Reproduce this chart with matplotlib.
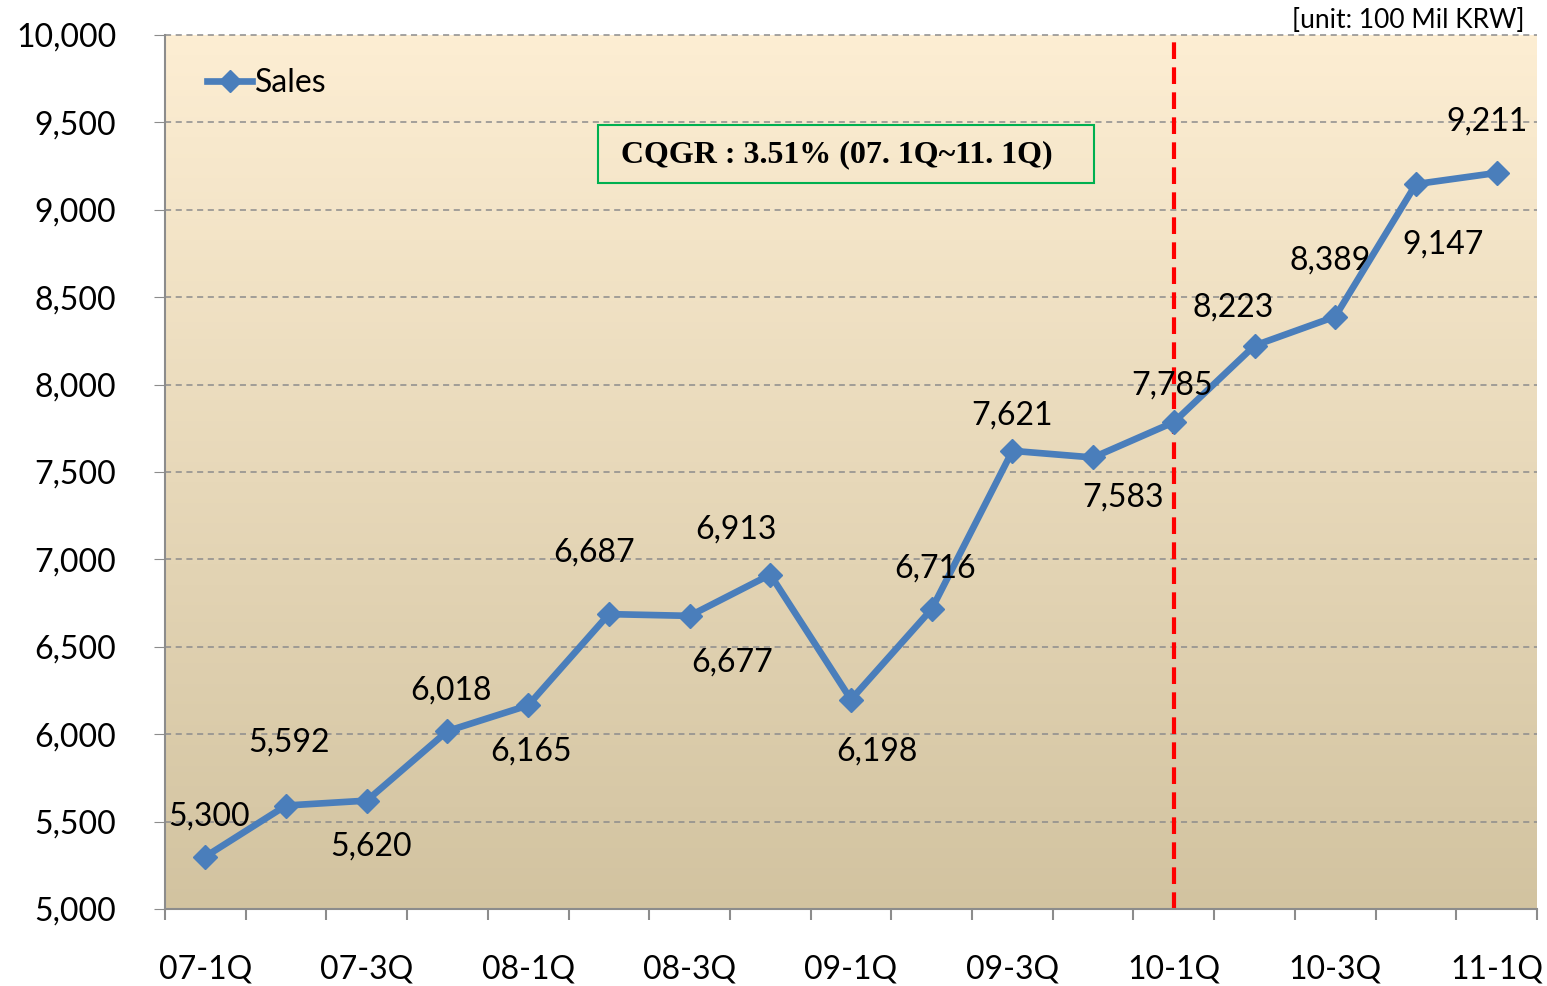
import matplotlib
matplotlib.use("Agg")
import matplotlib.pyplot as plt
import numpy as np
from matplotlib.colors import LinearSegmentedColormap
from matplotlib.patches import Rectangle

# quarterly sales, unit: 100 Mil KRW
quarters = ["07-1Q", "07-2Q", "07-3Q", "07-4Q", "08-1Q", "08-2Q", "08-3Q", "08-4Q",
            "09-1Q", "09-2Q", "09-3Q", "09-4Q", "10-1Q", "10-2Q", "10-3Q", "10-4Q", "11-1Q"]
sales = [5300, 5592, 5620, 6018, 6165, 6687, 6677, 6913,
         6198, 6716, 7621, 7583, 7785, 8223, 8389, 9147, 9211]
y_ticks = [5000, 5500, 6000, 6500, 7000, 7500, 8000, 8500, 9000, 9500, 10000]
split_quarter = "10-1Q"
note_text = "CQGR : 3.51% (07. 1Q~11. 1Q)"
unit_text = "[unit: 100 Mil KRW]"

# label offsets in pixels (dx, dy), picked to match where the labels sit
label_offsets = [(4, 40), (3, 63), (4, -46), (4, 41), (3, -46), (-15, 62), (43, -47), (-34, 45),
                 (26, -52), (3, 41), (0, 35), (30, -40), (-2, 37), (-21, 38), (-5, 56), (27, -60), (-10, 51)]

plt.rcParams['font.family'] = ['Lato', 'DejaVu Sans']

fig = plt.figure(figsize=(15.47, 9.86), dpi=100)
fig.patch.set_facecolor("white")
ax = fig.add_axes([165 / 1547, 1 - 909 / 986, (1537 - 165) / 1547, (909 - 35) / 986])

x = np.arange(len(quarters))
ax.set_xlim(-0.5, len(quarters) - 0.5)
ax.set_ylim(5000, 10000)

# background gradient, cream at the top to tan at the bottom
cmap = LinearSegmentedColormap.from_list("bg", ["#d2c3a0", "#fdeed3"])
grad = np.linspace(0, 1, 256).reshape(-1, 1)
ax.imshow(grad, cmap=cmap, aspect="auto", origin="lower",
          extent=[-0.5, len(quarters) - 0.5, 5000, 10000], zorder=0)

for yv in y_ticks:
    ax.axhline(yv, color="#8c8c8c", lw=1.1, ls=(0, (4, 3)), zorder=1, clip_on=False)

split_idx = quarters.index(split_quarter)
ax.axvline(split_idx, color="#ff0000", lw=3, ls=(0, (4, 2)), zorder=2)

ax.plot(x, sales, color="#4a7ebb", lw=4.8, marker="D", markersize=12,
        label="Sales", zorder=3)

for xi, v, (dx, dy) in zip(x, sales, label_offsets):
    ax.annotate(f"{v:,}", (xi, v), xytext=(dx * 0.72, dy * 0.72), textcoords="offset points",
                ha="center", va="center", fontsize=23, color="black", zorder=4)

ax.set_yticks(y_ticks)
ax.set_yticklabels([f"{v:,}" for v in y_ticks], fontsize=23)
ax.tick_params(axis="y", length=8, color="#8c8c8c", pad=27)

ax.set_xticks(x[::2])
ax.set_xticklabels(quarters[::2], fontsize=23)
ax.set_xticks(np.arange(-0.5, len(quarters)), minor=True)
ax.tick_params(axis="x", which="major", length=0, pad=33)
ax.tick_params(axis="x", which="minor", length=8, color="#8c8c8c", width=1.5)

for s in ["top", "right"]:
    ax.spines[s].set_visible(False)
for s in ["left", "bottom"]:
    ax.spines[s].set_color("#8c8c8c")
    ax.spines[s].set_linewidth(1.5)

ax.legend(loc="upper left", bbox_to_anchor=(0.01, 0.995), frameon=False, fontsize=23,
          handlelength=1.4, handletextpad=0.1, markerscale=0.9)

# growth note in a green box
ax.add_patch(Rectangle((0.3156, 0.8307), 0.3615, 0.0664, transform=ax.transAxes,
                       facecolor="none", edgecolor="#00b050", lw=1.5, zorder=4))
ax.text(0.4898, 0.8627, note_text, transform=ax.transAxes, ha="center", va="center",
        fontsize=23, fontweight="bold", family="Liberation Serif", color="black", zorder=5)

fig.text(1525 / 1547, 1 - 20 / 986, unit_text, ha="right", va="center", fontsize=19, color="black")

fig.savefig("out.png", dpi=100)
